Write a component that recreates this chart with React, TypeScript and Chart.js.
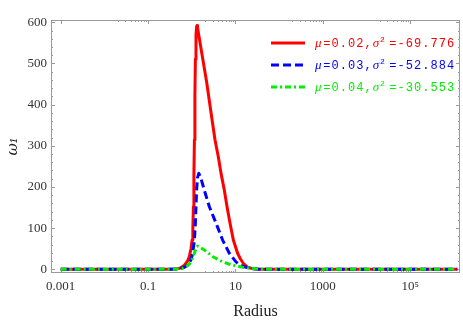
import React, { useEffect, useRef } from "react";
import { Chart, registerables } from "chart.js";

Chart.register(...registerables);

// ---- data ----
const redRadius = [0.001, 0.3, 0.45, 0.55, 0.68, 0.8, 0.88, 0.96, 1.02, 1.06, 1.09, 1.12, 1.15, 1.18, 1.21, 1.25, 1.29, 1.32, 1.36, 1.6, 2.19, 2.8, 3.41, 4.06, 4.68, 5.57, 6.42, 7.52, 8.95, 11.2, 13, 15.1, 19, 22.8, 30, 45, 1.2e6];
const redOmega = [0, 0, 1, 3, 10, 20, 31, 50, 71, 100, 152, 230, 314, 420, 510, 568, 589, 592, 586, 541, 455, 376, 314, 273, 233, 192, 152, 112, 71, 39, 25, 14.6, 5, 2.4, 0.5, 0, 0];

const blueRadius = [0.001, 0.3, 0.5, 0.68, 0.8, 0.88, 0.97, 1.05, 1.1, 1.15, 1.21, 1.29, 1.35, 1.45, 1.6, 1.94, 2.53, 3.6, 5.09, 7.24, 10.3, 12.5, 15.8, 24.5, 35, 1.2e6];
const blueOmega = [0, 0, 1, 5, 10, 14.6, 25, 39, 55, 71, 112, 192, 222, 233, 223, 192, 152, 112, 71, 39, 18, 11, 6, 1.5, 0, 0];

const greenRadius = [0.001, 0.4, 0.6, 0.74, 0.85, 0.96, 1.05, 1.15, 1.25, 1.36, 1.5, 1.94, 3.0, 5.09, 8.63, 14.6, 20, 29.5, 45, 70, 1.2e6];
const greenOmega = [0, 0, 2, 6, 11, 18, 28, 39, 50, 56.6, 54, 47, 31, 18, 10, 5, 3, 1.5, 0.3, 0, 0];

const seriesLabels = ["μ=0.02,σ²=-69.776", "μ=0.03,σ²=-52.884", "μ=0.04,σ²=-30.553"];
const seriesColors = ["#ff0000", "#0000ff", "#00ee00"];
const seriesDashes: number[][] = [[], [8, 4], [6, 3, 2, 3]];

const xTickValues = [0.001, 0.1, 10, 1000, 100000];
const xTickLabels = ["0.001", "0.1", "10", "1000", "10⁵"];
const xMinorTicks = [0.02, 0.03, 0.04, 0.05, 0.06, 0.07, 0.08, 0.09, 2, 3, 4, 5, 6, 7, 8, 9, 200, 300, 400, 500, 600, 700, 800, 900, 20000, 30000, 40000, 50000, 60000, 70000, 80000, 90000];
const yTickValues = [0, 100, 200, 300, 400, 500, 600];
const yMinorTicks = [20, 40, 60, 80, 120, 140, 160, 180, 220, 240, 260, 280, 320, 340, 360, 380, 420, 440, 460, 480, 520, 540, 560, 580];

const X_MIN = 6.47e-4;
const X_MAX = 1.38e6;
const Y_MIN = -9;
const Y_MAX = 605.6;

const toPoints = (xs: number[], ys: number[]) => xs.map((x, i) => ({ x, y: ys[i] }));

const frameColor = "#9a9a9a";

const framePlugin = {
  id: "frameTicks",
  beforeDatasetsDraw(chart: any) {
    const { ctx, chartArea } = chart;
    const { left, right, top, bottom } = chartArea;
    const xs = chart.scales.x;
    const ys = chart.scales.y;
    ctx.save();
    ctx.strokeStyle = frameColor;
    ctx.lineWidth = 1;
    ctx.setLineDash([]);
    ctx.strokeRect(left + 0.5, top + 0.5, right - left - 1, bottom - top - 1);
    ctx.beginPath();
    const vt = (v: number, len: number) => {
      const px = Math.round(xs.getPixelForValue(v)) + 0.5;
      ctx.moveTo(px, bottom);
      ctx.lineTo(px, bottom - len);
      ctx.moveTo(px, top);
      ctx.lineTo(px, top + len);
    };
    const ht = (v: number, len: number) => {
      const py = Math.round(ys.getPixelForValue(v)) + 0.5;
      ctx.moveTo(left, py);
      ctx.lineTo(left + len, py);
      ctx.moveTo(right, py);
      ctx.lineTo(right - len, py);
    };
    xTickValues.forEach((v) => vt(v, 4));
    xMinorTicks.forEach((v) => vt(v, 2));
    yTickValues.forEach((v) => ht(v, 4));
    yMinorTicks.forEach((v) => ht(v, 2));
    ctx.stroke();
    ctx.restore();
  },
};

const legendPlugin = {
  id: "innerLegend",
  afterDraw(chart: any) {
    const { ctx } = chart;
    const lineX0 = 271;
    const lineX1 = 305;
    const textX = 315;
    const pitch = 8.25;
    seriesLabels.forEach((label, i) => {
      const y = 43 + i * 22;
      ctx.save();
      ctx.strokeStyle = seriesColors[i];
      ctx.lineWidth = 3;
      ctx.setLineDash(seriesDashes[i]);
      ctx.beginPath();
      ctx.moveTo(lineX0, y);
      ctx.lineTo(lineX1, y);
      ctx.stroke();
      ctx.setLineDash([]);
      ctx.fillStyle = seriesColors[i];
      ctx.textAlign = "left";
      ctx.textBaseline = "alphabetic";
      let x = textX;
      for (const ch of Array.from(label)) {
        if (ch === "μ" || ch === "σ") {
          ctx.font = "italic 13px 'Liberation Serif'";
          ctx.fillText(ch, x, y + 4);
        } else if (ch === "²") {
          ctx.font = "8px 'Liberation Mono'";
          ctx.fillText("2", x - 1, y - 1);
        } else {
          ctx.font = "12px 'Liberation Mono'";
          ctx.fillText(ch, x, y + 4);
        }
        x += pitch;
      }
      ctx.restore();
    });
  },
};

export default function App() {
  const canvasRef = useRef<HTMLCanvasElement | null>(null);

  useEffect(() => {
    const canvas = canvasRef.current;
    if (!canvas) return;
    const datasets = [
      { data: toPoints(redRadius, redOmega), order: 2 },
      { data: toPoints(blueRadius, blueOmega), order: 1 },
      { data: toPoints(greenRadius, greenOmega), order: 0 },
    ].map((d, i) => ({
      label: seriesLabels[i],
      data: d.data,
      order: d.order,
      borderColor: seriesColors[i],
      backgroundColor: seriesColors[i],
      borderWidth: 3,
      borderDash: seriesDashes[i],
      borderJoinStyle: "round",
      pointRadius: 0,
      tension: 0,
      fill: false,
    }));

    const chart = new Chart(canvas, {
      type: "line",
      data: { datasets },
      options: {
        responsive: false,
        animation: false,
        devicePixelRatio: 1,
        layout: { padding: { top: 20, right: 3, left: 0, bottom: 0 } },
        plugins: { legend: { display: false }, tooltip: { enabled: false } },
        scales: {
          x: {
            type: "logarithmic",
            min: X_MIN,
            max: X_MAX,
            grid: { display: false, drawTicks: false },
            border: { display: false },
            afterBuildTicks: (s: any) => {
              s.ticks = xTickValues.map((v) => ({ value: v }));
            },
            afterFit: (s: any) => {
              s.height = 49;
            },
            ticks: {
              autoSkip: false,
              maxRotation: 0,
              padding: 6,
              color: "#333",
              font: { family: "'Liberation Serif'", size: 13 },
              callback: (v: any) => {
                const idx = xTickValues.indexOf(Number(v));
                return idx >= 0 ? xTickLabels[idx] : "";
              },
            },
            title: {
              display: true,
              text: "Radius",
              color: "#222",
              font: { family: "'Liberation Serif'", size: 16 },
              padding: { top: 0, bottom: 1 },
            },
          },
          y: {
            type: "linear",
            min: Y_MIN,
            max: Y_MAX,
            grid: { display: false, drawTicks: false },
            border: { display: false },
            afterBuildTicks: (s: any) => {
              s.ticks = yTickValues.map((v) => ({ value: v }));
            },
            afterFit: (s: any) => {
              s.width = 51;
            },
            ticks: {
              autoSkip: false,
              padding: 4,
              color: "#333",
              font: { family: "'Liberation Serif'", size: 13 },
              callback: (v: any) => String(v),
            },
            title: {
              display: true,
              text: "ω₁",
              color: "#222",
              font: { family: "'DejaVu Serif'", size: 15, style: "italic" },
              padding: { top: 4, bottom: 0 },
            },
          },
        },
      },
      plugins: [framePlugin, legendPlugin],
    } as any);

    return () => chart.destroy();
  }, []);

  return (
    <div style={{ position: "absolute", left: 0, top: 0, width: 463, height: 322, background: "#fff" }}>
      <canvas ref={canvasRef} width={463} height={322} style={{ width: 463, height: 322, display: "block" }} />
    </div>
  );
}
